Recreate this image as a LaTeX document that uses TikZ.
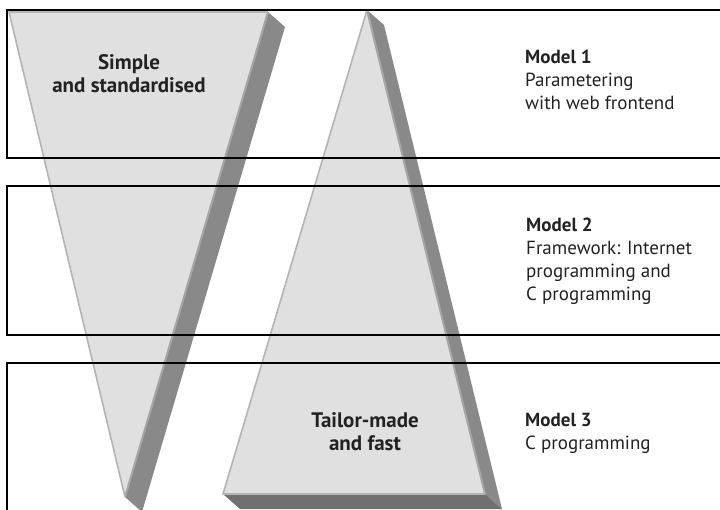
\documentclass[tikz,border=0pt]{standalone}
\usepackage{fontspec}
\setmainfont{PT Sans}
\definecolor{facegray}{HTML}{E0E0E0}
\definecolor{rimgray}{HTML}{B4B4B4}
\definecolor{sidegray}{HTML}{898989}
\definecolor{edgegray}{HTML}{A6A6A6}
\definecolor{basegray}{HTML}{707070}
\definecolor{inkgray}{HTML}{222222}
\begin{document}
\begin{tikzpicture}[x=1pt,y=-1pt,
  frame/.style={draw=black,line width=2.8pt},
  face/.style={fill=facegray},
  rim/.style={draw=rimgray,line width=1.6pt,line join=round},
  side/.style={fill=sidegray},
  ridge/.style={draw=edgegray,line width=2pt},
  label/.style={font=\fontsize{19}{22.7}\selectfont,text=inkgray,inner sep=0pt,align=left,anchor=base west},
  title/.style={font=\bfseries\fontsize{21}{22.5}\selectfont,text=inkgray,inner sep=0pt,align=center,anchor=base}]
\useasboundingbox (0,0) rectangle (720,509);
\begin{scope}
  \clip (0,0) rectangle (720,509);
  % funnel pointing down
  \fill[side] (268,12) -- (285,27) -- (142,512) -- (125,497) -- cycle;
  \fill[face] (9,12) -- (268,12) -- (125,497) -- cycle;
  \draw[ridge] (268,12) -- (125,497);
  \draw[rim] (125,497) -- (9,12) -- (268,12);
  % block pointing up
  \fill[side] (367,10) -- (384,25) -- (502,509) -- (485,494) -- cycle;
  \fill[fill=basegray] (223,494) -- (485,494) -- (502,509) -- (240,509) -- cycle;
  \fill[face] (367,10) -- (485,494) -- (223,494) -- cycle;
  \draw[ridge] (367,10) -- (485,494);
  \draw[rim] (485,494) -- (223,494) -- (367,10);
  % the three bands
  \draw[frame] (7,10) rectangle (730,158);
  \draw[frame] (7,186) rectangle (730,335);
  \draw[frame] (7,363) rectangle (730,530);
\end{scope}
% multi-line nodes sit on the baseline of their last line
\node[title] (simple) at (129,92) {Simple\\and standardised};
\node[title] (tailor) at (365,450) {Tailor-made\\and fast};
\node[label] (m1) at (525,109) {\textbf{Model 1}\\Parametering\\with web frontend};
\node[label] (m2) at (526,300) {\textbf{Model 2}\\Framework: Internet\\programming and\\C programming};
\node[label] (m3) at (525,449) {\textbf{Model 3}\\C programming};
\end{tikzpicture}
\end{document}
